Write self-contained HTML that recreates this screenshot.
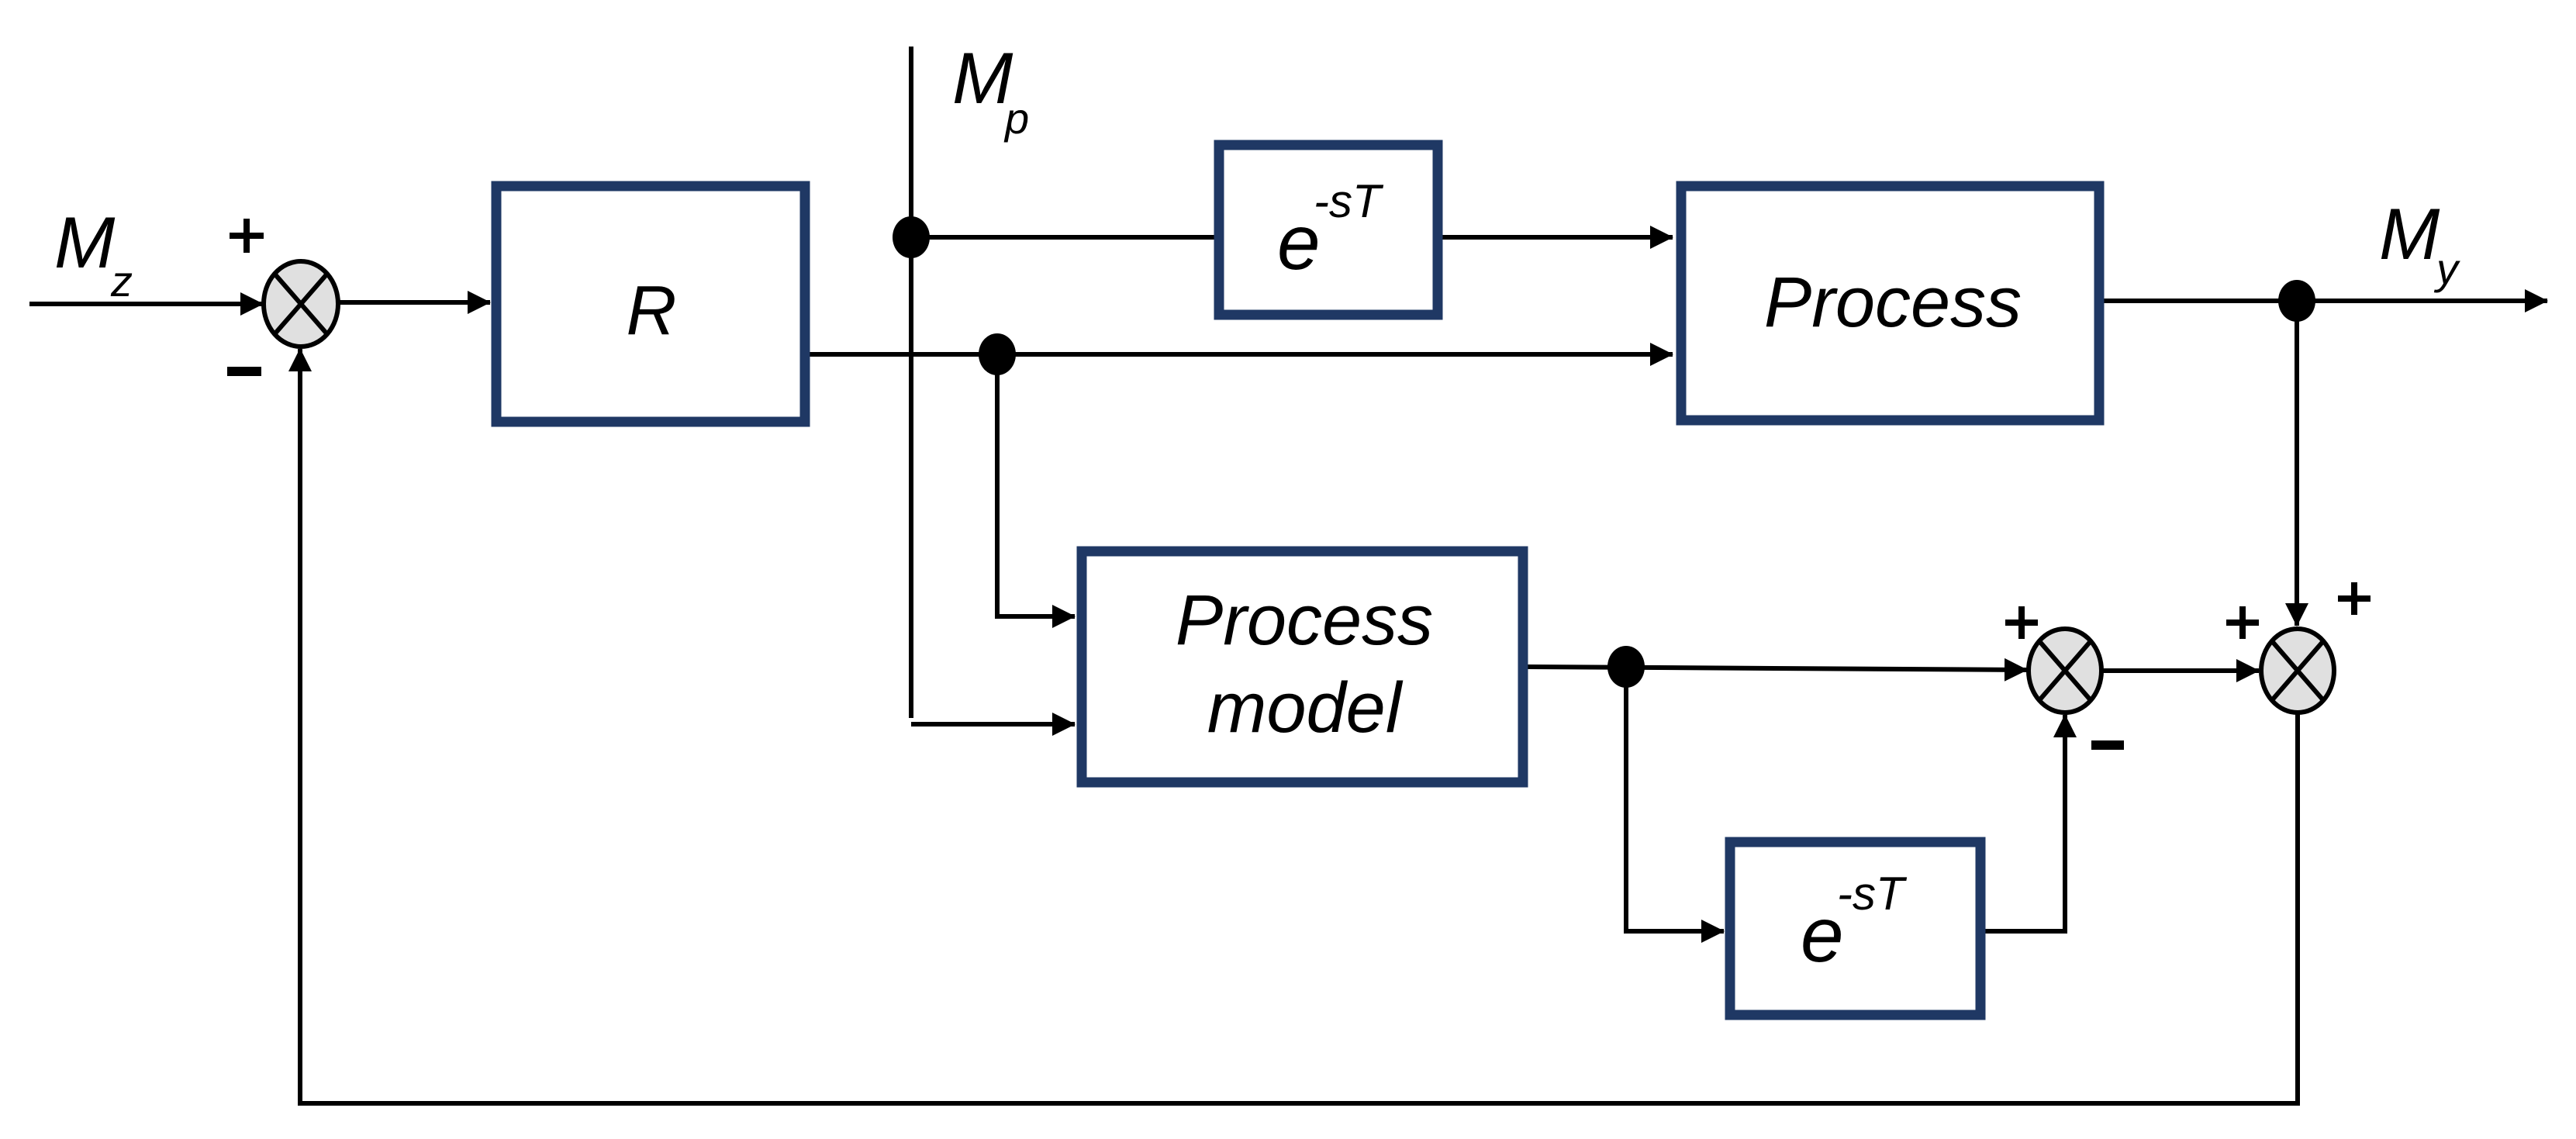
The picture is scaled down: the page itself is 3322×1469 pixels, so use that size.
<!DOCTYPE html>
<html><head><meta charset="utf-8"><style>html,body{margin:0;padding:0;background:#fff}svg{display:block}</style></head>
<body>
<svg width="3322" height="1469" viewBox="0 0 3322 1469" xmlns="http://www.w3.org/2000/svg">
<defs>
<marker id="a" markerWidth="30" markerHeight="34" refX="29" refY="17" orient="auto" markerUnits="userSpaceOnUse">
<path d="M0,2 L30,17 L0,32 Z" fill="#000"/></marker>
</defs>
<g stroke="#000" stroke-width="6" fill="none">
<!-- Mz input -->
<line x1="38" y1="392" x2="339" y2="392" marker-end="url(#a)"/>
<!-- sum1 to R -->
<line x1="437" y1="390" x2="632" y2="390" marker-end="url(#a)"/>
<!-- Mp vertical -->
<line x1="1175" y1="60" x2="1175" y2="926"/>
<line x1="1175" y1="934" x2="1386" y2="934" marker-end="url(#a)"/>
<!-- top delay path -->
<line x1="1175" y1="306" x2="1566" y2="306"/>
<line x1="1860" y1="306" x2="2157" y2="306" marker-end="url(#a)"/>
<!-- R output -->
<line x1="1044" y1="457" x2="2157" y2="457" marker-end="url(#a)"/>
<polyline points="1286,457 1286,795 1386,795" marker-end="url(#a)"/>
<!-- Process output -->
<line x1="2713" y1="388" x2="3285" y2="388" marker-end="url(#a)"/>
<line x1="2962" y1="388" x2="2962" y2="807" marker-end="url(#a)"/>
<!-- Process model output -->
<line x1="1970" y1="860" x2="2614" y2="864" marker-end="url(#a)"/>
<polyline points="2097,860 2097,1201 2223,1201" marker-end="url(#a)"/>
<polyline points="2560,1201 2663,1201 2663,922" marker-end="url(#a)"/>
<line x1="2712" y1="865" x2="2913" y2="865" marker-end="url(#a)"/>
<!-- feedback -->
<polyline points="2963,920 2963,1423 387,1423 387,450" marker-end="url(#a)"/>
</g>
<!-- dots -->
<g fill="#000">
<ellipse cx="1175" cy="306" rx="24" ry="27"/>
<ellipse cx="1286" cy="457" rx="24" ry="27"/>
<ellipse cx="2097" cy="860" rx="24" ry="27"/>
<ellipse cx="2962" cy="388" rx="24" ry="27"/>
</g>
<!-- boxes -->
<g fill="#fff" stroke="#1f3864" stroke-width="13">
<rect x="640" y="240" width="398" height="304"/>
<rect x="1572" y="187" width="282" height="219"/>
<rect x="2168" y="240" width="539" height="302"/>
<rect x="1395" y="711" width="569" height="298"/>
<rect x="2231" y="1086" width="323" height="223"/>
</g>
<!-- summing junctions -->
<g stroke="#000" stroke-width="6" fill="#e0e0e0">
<ellipse cx="388" cy="392" rx="48" ry="55"/>
<ellipse cx="2663" cy="865" rx="47" ry="54"/>
<ellipse cx="2963" cy="865" rx="47" ry="54"/>
</g>
<g stroke="#000" stroke-width="6">
<line x1="354" y1="353" x2="422" y2="431"/><line x1="422" y1="353" x2="354" y2="431"/>
<line x1="2630" y1="827" x2="2696" y2="903"/><line x1="2696" y1="827" x2="2630" y2="903"/>
<line x1="2930" y1="827" x2="2996" y2="903"/><line x1="2996" y1="827" x2="2930" y2="903"/>
</g>
<!-- signs -->
<g stroke="#000" stroke-width="8">
<line x1="296" y1="304" x2="340" y2="304"/><line x1="318" y1="282" x2="318" y2="326"/>
<line x1="2586" y1="803" x2="2628" y2="803"/><line x1="2607" y1="782" x2="2607" y2="824"/>
<line x1="2871" y1="803" x2="2913" y2="803"/><line x1="2892" y1="782" x2="2892" y2="824"/>
<line x1="3015" y1="772" x2="3057" y2="772"/><line x1="3036" y1="751" x2="3036" y2="793"/>
</g>
<rect x="293" y="473" width="44" height="12" fill="#000"/>
<rect x="2697" y="955" width="42" height="12" fill="#000"/>
<!-- text -->
<g font-family="Liberation Sans, sans-serif" font-style="italic" fill="#000">
<text x="70" y="345" font-size="94">M</text>
<text x="143" y="382" font-size="56">z</text>
<text x="1228" y="133" font-size="94">M</text>
<text x="1296" y="172" font-size="56">p</text>
<text x="3068" y="334" font-size="94">M</text>
<text x="3142" y="366" font-size="56">y</text>
<text x="840" y="431" font-size="90" text-anchor="middle">R</text>
<text x="1647" y="347" font-size="100">e</text>
<text x="1694" y="280" font-size="60">-sT</text>
<text x="2441" y="421" font-size="92" text-anchor="middle">Process</text>
<text x="1682" y="831" font-size="92" text-anchor="middle">Process</text>
<text x="1682" y="944" font-size="92" text-anchor="middle">model</text>
<text x="2322" y="1240" font-size="100">e</text>
<text x="2369" y="1173" font-size="60">-sT</text>
</g>
</svg>
</body></html>
